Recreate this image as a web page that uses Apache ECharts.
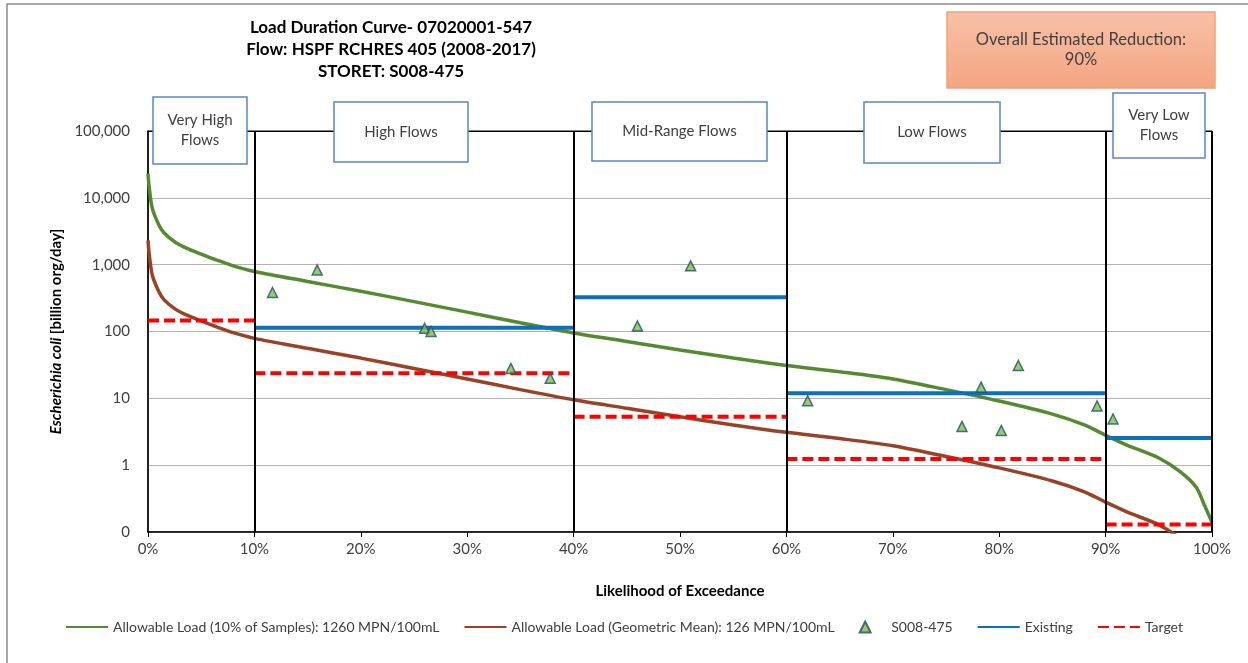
<!DOCTYPE html>
<html>
<head>
<meta charset="utf-8">
<script src="https://cdn.jsdelivr.net/npm/echarts@6/dist/echarts.min.js"></script>
<style>
  html, body { margin: 0; padding: 0; background: #fff; }
  #chart { width: 1248px; height: 663px; }
</style>
</head>
<body>
<div id="chart"></div>
<script>
// likelihood of exceedance (%) for the two allowable load curves
var curvePct = [0, 0.1, 0.4, 1, 1.5, 2.5, 3.6, 5, 6.4, 8, 10, 15, 20, 25, 30, 35, 40, 45, 50, 55, 60, 65, 70, 75, 80, 85, 88, 90, 92, 95, 97, 98.5, 99.3, 100];
var allow10 = [23000, 15000, 7000, 4000, 3000, 2200, 1770, 1440, 1180, 960, 790, 560, 400, 280, 195, 135, 95, 71, 53, 40, 31, 25, 19.5, 13.5, 9.1, 5.8, 4.0, 2.8, 2.0, 1.28, 0.8, 0.47, 0.25, 0.14];
var allowGeo = [2300, 1500, 700, 400, 300, 220, 177, 144, 118, 96, 79, 56, 40, 28, 19.5, 13.5, 9.5, 7.1, 5.3, 4.0, 3.1, 2.5, 1.95, 1.35, 0.91, 0.58, 0.40, 0.28, 0.20, 0.128, 0.08, 0.047, 0.025, 0.014];

// S008-475 samples
var samplePct = [11.7, 15.9, 26.0, 26.6, 34.1, 37.8, 46.0, 51.0, 62.0, 76.5, 78.3, 80.2, 81.8, 89.2, 90.7];
var sampleVal = [383, 835, 112, 100, 28, 20, 121, 960, 9.2, 3.8, 14.7, 3.3, 31, 7.7, 4.9];

// flow zone step lines
var existingFrom = [10, 40, 60, 90];
var existingTo = [40, 60, 90, 100];
var existingVal = [114, 326, 11.9, 2.55];
var targetFrom = [0, 10, 40, 60, 90];
var targetTo = [10, 40, 60, 90, 100];
var targetVal = [146, 23.7, 5.3, 1.24, 0.13];

var zoneBreaks = [10, 40, 60, 90, 100];

var FONT = "Lato, 'Noto Sans', sans-serif";

function steps(from, to, val) {
  var out = [];
  for (var i = 0; i < val.length; i++) {
    out.push([from[i], val[i]]);
    out.push([to[i], val[i]]);
    out.push([to[i], NaN]);
  }
  return out;
}

// a labelled box: rect + centred text
function labelBox(x, y, w, h, label, fill, stroke, size) {
  return {
    type: 'group',
    z: 100,
    children: [
      {
        type: 'rect',
        z: 100,
        shape: { x: x, y: y, width: w, height: h },
        style: { fill: fill, stroke: stroke, lineWidth: 1.5 }
      },
      {
        type: 'text',
        z: 101,
        x: x + w / 2,
        y: y + h / 2,
        style: {
          text: label,
          fill: '#404040',
          fontFamily: FONT,
          fontSize: size,
          lineHeight: 20,
          align: 'center',
          verticalAlign: 'middle'
        }
      }
    ]
  };
}

var chart = echarts.init(document.getElementById('chart'));

var option = {
  animation: false,
  title: {
    text: 'Load Duration Curve- 07020001-547\nFlow: HSPF RCHRES 405 (2008-2017)\nSTORET: S008-475',
    left: 386,
    top: 12,
    textAlign: 'center',
    textStyle: { fontFamily: FONT, fontWeight: 'bold', fontSize: 17, lineHeight: 22, color: '#000' }
  },
  grid: {
    left: 148, right: 36, top: 131, bottom: 131,
    show: true, borderColor: '#000', borderWidth: 1
  },
  legend: {
    bottom: 24,
    left: 'center',
    itemWidth: 42,
    itemHeight: 11,
    itemGap: 24,
    textStyle: { fontFamily: FONT, fontSize: 14, color: '#404040' },
    data: [
      { name: 'Allowable Load (10% of Samples): 1260 MPN/100mL', itemStyle: { opacity: 0 } },
      { name: 'Allowable Load (Geometric Mean): 126 MPN/100mL', itemStyle: { opacity: 0 } },
      { name: 'S008-475', icon: 'path://M5,0L10,10L0,10Z' },
      { name: 'Existing', itemStyle: { opacity: 0 } },
      { name: 'Target', itemStyle: { opacity: 0 } }
    ]
  },
  xAxis: {
    type: 'value',
    min: 0, max: 100, interval: 10,
    name: 'Likelihood of Exceedance',
    nameLocation: 'middle',
    nameGap: 52,
    nameTextStyle: { fontFamily: FONT, fontWeight: 'bold', fontSize: 15, color: '#000' },
    axisLine: { lineStyle: { color: '#000', width: 1.5 } },
    axisTick: { show: true, length: 5, lineStyle: { color: '#000' } },
    axisLabel: { formatter: '{value}%', fontFamily: FONT, fontSize: 15, color: '#404040', margin: 10 },
    splitLine: { show: false }
  },
  yAxis: {
    type: 'log',
    logBase: 10,
    min: 0.1, max: 100000,
    name: '{i|Escherichia coli} {b|[billion org/day]}',
    nameLocation: 'middle',
    nameGap: 82,
    nameTextStyle: {
      rich: {
        i: { fontFamily: FONT, fontWeight: 'bold', fontStyle: 'italic', fontSize: 15, color: '#000' },
        b: { fontFamily: FONT, fontWeight: 'bold', fontSize: 15, color: '#000' }
      }
    },
    axisLine: { show: true, lineStyle: { color: '#000', width: 1.5 } },
    axisTick: { show: false },
    axisLabel: {
      fontFamily: FONT, fontSize: 15, color: '#404040', margin: 18,
      formatter: function (v) {
        if (v < 0.5) return '0';
        return Math.round(v).toLocaleString('en-US');
      }
    },
    splitLine: { lineStyle: { color: '#b4b4b4', width: 1 } }
  },
  series: [
    {
      name: 'Allowable Load (10% of Samples): 1260 MPN/100mL',
      type: 'line',
      symbol: 'none',
      smooth: 0.3,
      data: curvePct.map(function (p, i) { return [p, allow10[i]]; }),
      lineStyle: { color: '#568a31', width: 3.5 },
      itemStyle: { color: '#568a31' },
      z: 3,
      markLine: {
        silent: true,
        symbol: 'none',
        label: { show: false },
        lineStyle: { color: '#000', width: 2, type: 'solid' },
        data: zoneBreaks.map(function (x) { return { xAxis: x }; }).concat([
          { yAxis: 100000, lineStyle: { width: 1.2 } }
        ])
      }
    },
    {
      name: 'Allowable Load (Geometric Mean): 126 MPN/100mL',
      type: 'line',
      symbol: 'none',
      smooth: 0.3,
      data: curvePct.map(function (p, i) { return [p, allowGeo[i]]; }),
      lineStyle: { color: '#9a4227', width: 3.5 },
      itemStyle: { color: '#9a4227' },
      z: 3
    },
    {
      name: 'S008-475',
      type: 'scatter',
      symbol: 'triangle',
      symbolSize: 10,
      data: samplePct.map(function (p, i) { return [p, sampleVal[i]]; }),
      itemStyle: { color: '#7fbf3a', borderColor: '#1f4e79', borderWidth: 1.5 },
      z: 6
    },
    {
      name: 'Existing',
      type: 'line',
      symbol: 'none',
      connectNulls: false,
      data: steps(existingFrom, existingTo, existingVal),
      lineStyle: { color: '#0a70c0', width: 4 },
      itemStyle: { color: '#0a70c0' },
      z: 4
    },
    {
      name: 'Target',
      type: 'line',
      symbol: 'none',
      connectNulls: false,
      data: steps(targetFrom, targetTo, targetVal),
      lineStyle: { color: '#ff0000', width: 4, type: [11, 5] },
      itemStyle: { color: '#ff0000' },
      z: 4
    }
  ],
  graphic: [
    {
      type: 'rect',
      z: -1,
      shape: { x: 7, y: 4, width: 1260, height: 680 },
      style: { fill: 'none', stroke: '#8c8c8c', lineWidth: 1.5 }
    },
    labelBox(947, 12, 268, 76, 'Overall Estimated Reduction:\n90%',
      new echarts.graphic.LinearGradient(0, 0, 0, 1, [
        { offset: 0, color: '#f8c1a8' },
        { offset: 1, color: '#f4a582' }
      ]), '#f0a27a', 16.5),
    labelBox(153, 97, 94, 67, 'Very High\nFlows', '#fff', '#5b87c5', 15),
    labelBox(334, 102, 134, 60, 'High Flows', '#fff', '#5b87c5', 15),
    labelBox(592, 102, 175, 59, 'Mid-Range Flows', '#fff', '#5b87c5', 15),
    labelBox(864, 102, 136, 61, 'Low Flows', '#fff', '#5b87c5', 15),
    labelBox(1113, 93, 92, 65, 'Very Low\nFlows', '#fff', '#5b87c5', 15)
  ]
};

chart.setOption(option);
</script>
</body>
</html>
